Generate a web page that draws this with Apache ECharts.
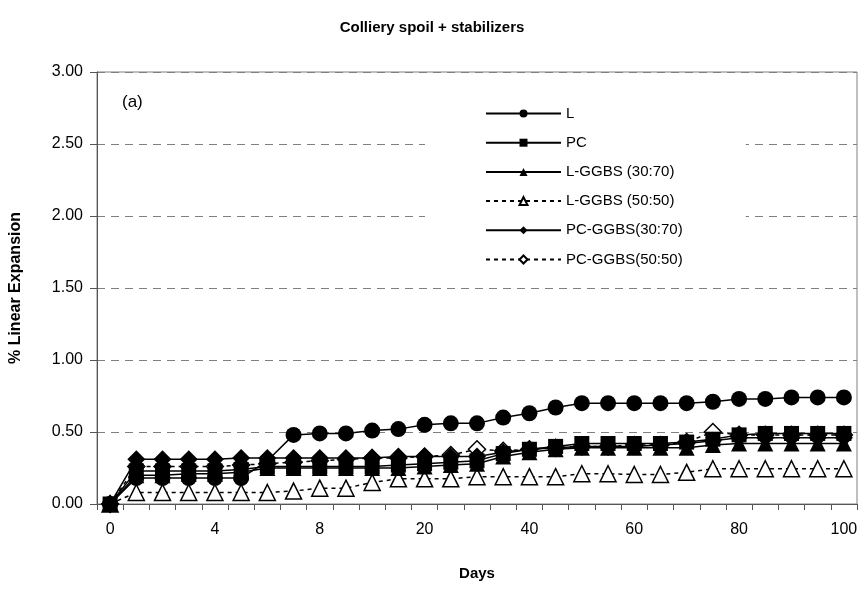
<!DOCTYPE html>
<html><head><meta charset="utf-8">
<script src="https://cdn.jsdelivr.net/npm/echarts@6/dist/echarts.min.js"></script>
<style>html,body{margin:0;padding:0;background:#fff}#c{width:864px;height:590px}</style>
</head><body><div id="c"></div>
<script>
const days = ['0','1','2','3','4','5','6','7','8','10','12','15','20','25','30','35','40','45','50','55','60','65','70','75','80','85','90','95','100'];
const shownLabels = ['0','4','8','20','40','60','80','100'];
const seriesNames = ['L','PC','L-GGBS (30:70)','L-GGBS (50:50)','PC-GGBS(30:70)','PC-GGBS(50:50)'];
const L_vals      = [0,0.18,0.18,0.18,0.18,0.18,0.30,0.48,0.49,0.49,0.51,0.52,0.55,0.56,0.56,0.60,0.63,0.67,0.70,0.70,0.70,0.70,0.70,0.71,0.73,0.73,0.74,0.74,0.74];
const PC_vals     = [0,0.23,0.23,0.23,0.23,0.24,0.26,0.26,0.26,0.26,0.26,0.27,0.28,0.29,0.30,0.35,0.38,0.40,0.42,0.42,0.42,0.42,0.43,0.45,0.48,0.49,0.49,0.49,0.49];
const LG3070_vals = [0,0.20,0.20,0.21,0.21,0.22,0.25,0.25,0.25,0.25,0.25,0.25,0.26,0.27,0.28,0.33,0.36,0.38,0.39,0.39,0.39,0.39,0.39,0.41,0.42,0.42,0.42,0.42,0.42];
const LG5050_vals = [0,0.08,0.08,0.08,0.08,0.08,0.08,0.09,0.11,0.11,0.15,0.175,0.175,0.175,0.19,0.19,0.19,0.19,0.21,0.21,0.205,0.205,0.22,0.245,0.245,0.245,0.245,0.245,0.245];
const PG3070_vals = [0,0.31,0.31,0.31,0.31,0.32,0.32,0.32,0.32,0.32,0.32,0.33,0.33,0.33,0.33,0.36,0.38,0.39,0.40,0.40,0.40,0.41,0.42,0.44,0.46,0.46,0.46,0.46,0.46];
const PG5050_vals = [0,0.26,0.26,0.26,0.26,0.27,0.28,0.29,0.30,0.31,0.32,0.32,0.33,0.34,0.38,0.37,0.38,0.39,0.40,0.40,0.41,0.41,0.43,0.50,0.48,0.48,0.48,0.48,0.48];
const yTicks = [0,0.5,1,1.5,2,2.5,3];

const FONT = 'Liberation Sans, Arial, sans-serif';
const chart = echarts.init(document.getElementById('c'), null, {renderer:'canvas'});

function mk(name, data, symbol, open, dashed, size, z){
  return {
    name, type:'line', data, symbol, symbolSize:size, z, showAllSymbol:true,
    lineStyle:{color:'#000', width:1.5, type: dashed ? [4,4] : 'solid'},
    itemStyle: open ? {color:'#fff', borderColor:'#000', borderWidth:1.5} : {color:'#000', borderColor:'#000', borderWidth:0},
    emphasis:{disabled:true}, animation:false
  };
}

chart.setOption({
  backgroundColor:'#fff',
  animation:false,
  title:{text:'Colliery spoil + stabilizers', left:'center', top:15,
    textStyle:{fontFamily:FONT, fontSize:15, fontWeight:'bold', color:'#000'}},
  grid:{left:97, right:7, top:72, bottom:86, show:true, borderColor:'#808080', borderWidth:1},
  legend:{
    orient:'vertical', left:425, top:94,
    padding:[12,63,12,60], backgroundColor:'#fff',
    itemWidth:75, itemHeight:10, itemGap:14.2,
    textStyle:{fontFamily:FONT, fontSize:15, color:'#000'},
    data: seriesNames
  },
  graphic:[{type:'text', left:122, top:94, style:{text:'(a)', font:'17px '+FONT, fill:'#000'}}],
  xAxis:{
    type:'category', data:days, boundaryGap:true,
    name:'Days', nameLocation:'middle', nameGap:62,
    nameTextStyle:{fontFamily:FONT, fontSize:15, fontWeight:'bold', color:'#000'},
    axisLine:{lineStyle:{color:'#555', width:1}},
    axisTick:{show:true, interval:0, length:6, lineStyle:{color:'#555'}},
    axisLabel:{interval:(i,v)=>shownLabels.includes(v), margin:18, fontFamily:FONT, fontSize:16, color:'#000'},
    splitLine:{show:false}
  },
  yAxis:{
    type:'value', min:yTicks[0], max:yTicks[yTicks.length-1], interval:0.5,
    name:'% Linear Expansion', nameLocation:'middle', nameGap:73,
    nameTextStyle:{fontFamily:FONT, fontSize:16, fontWeight:'bold', color:'#000'},
    axisLine:{show:true, lineStyle:{color:'#555', width:1}},
    axisTick:{show:true, length:7, lineStyle:{color:'#555'}},
    axisLabel:{formatter:v=>v.toFixed(2), margin:14, fontFamily:FONT, fontSize:16, color:'#000'},
    splitLine:{show:true, lineStyle:{color:'#808080', type:[8,6], width:1}}
  },
  series:[
    mk(seriesNames[0], L_vals, 'circle', false, false, 16, 6),
    mk(seriesNames[1], PC_vals, 'rect', false, false, 15, 7),
    mk(seriesNames[2], LG3070_vals, 'triangle', false, false, 16, 8),
    mk(seriesNames[3], LG5050_vals, 'triangle', true, true, 16, 3),
    mk(seriesNames[4], PG3070_vals, 'diamond', false, false, 18, 9),
    mk(seriesNames[5], PG5050_vals, 'diamond', true, true, 17, 2)
  ]
});
</script></body></html>
